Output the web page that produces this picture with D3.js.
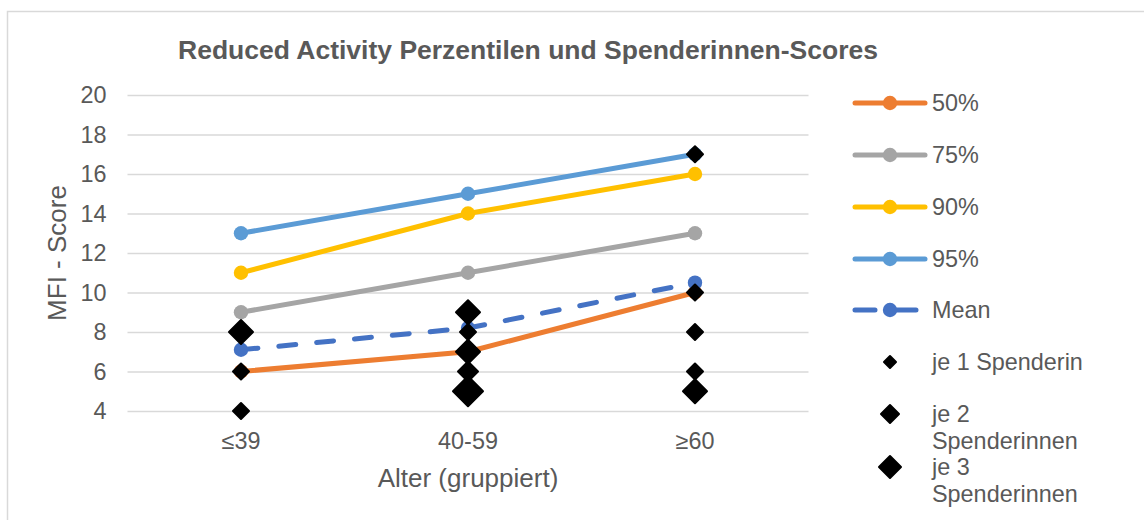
<!DOCTYPE html>
<html>
<head>
<meta charset="utf-8">
<script src="https://cdn.jsdelivr.net/npm/d3@7"></script>
<style>
  html, body { margin: 0; padding: 0; background: #fff; }
  svg { display: block; font-family: "Liberation Sans", Arial, sans-serif; }
</style>
</head>
<body>
<svg id="chart" width="1144" height="520"></svg>
<script>
// ---------- data ----------
const categories = ["≤39", "40-59", "≥60"];
const yTicks = [4, 6, 8, 10, 12, 14, 16, 18, 20];

const seriesNames = ["50%", "75%", "90%", "95%", "Mean"];
const p50  = [6, 7, 10];
const p75  = [9, 11, 13];
const p90  = [11, 14, 16];
const p95  = [13, 15, 17];
const mean = [7.1, 8.2, 10.5];

// donor scores: category, score, number of donors at that point
const donorCategory = ["≤39", "≤39", "≤39", "40-59", "40-59", "40-59", "40-59", "40-59", "≥60", "≥60", "≥60", "≥60", "≥60"];
const donorScore    = [8, 6, 4, 9, 8, 7, 6, 5, 17, 10, 8, 6, 5];
const donorCount    = [3, 1, 1, 3, 1, 3, 2, 4, 1, 1, 1, 1, 3];

const legendDonorLabels = [["je 1 Spenderin"], ["je 2", "Spenderinnen"], ["je 3", "Spenderinnen"]];
const titleText = "Reduced Activity Perzentilen und Spenderinnen-Scores";
const yTitle = "MFI - Score";
const xTitle = "Alter (gruppiert)";

// ---------- styles ----------
const colors = { "50%": "#ED7D31", "75%": "#A5A5A5", "90%": "#FFC000", "95%": "#5B9BD5", "Mean": "#4472C4" };
const seriesValues = { "50%": p50, "75%": p75, "90%": p90, "95%": p95, "Mean": mean };
const diamondSize = { 1: 18, 2: 22, 3: 26, 4: 32 };       // diagonal width in px (plot)
const legendDiamondSize = { 1: 14, 2: 20, 3: 24 };
const textColor = "#595959";

const svg = d3.select("#chart");
svg.append("rect").attr("width", 1144).attr("height", 520).attr("fill", "#fff");
svg.append("rect").attr("x", 7.5).attr("y", 11.5).attr("width", 1200).attr("height", 600)
  .attr("fill", "none").attr("stroke", "#d9d9d9").attr("stroke-width", 1.5);

const x = d3.scaleBand().domain(categories).range([127.5, 808.5]);
const cx = c => x(c) + x.bandwidth() / 2;
const y = d3.scaleLinear().domain([4, 20]).range([411, 95]);

// title
svg.append("text").attr("x", 528).attr("y", 50).attr("text-anchor", "middle")
  .attr("dominant-baseline", "central").attr("font-size", 26.5).attr("font-weight", "bold")
  .attr("fill", textColor).text(titleText);

// y axis + grid
const yAxis = d3.axisLeft(y).tickValues(yTicks).tickSize(-(808.5 - 127.5)).tickPadding(21);
const gy = svg.append("g").attr("transform", "translate(127.5,0)").call(yAxis);
gy.select(".domain").remove();
gy.selectAll(".tick line").attr("stroke", "#d9d9d9").attr("stroke-width", 1.5);
gy.selectAll(".tick text").attr("font-size", 23.4).attr("fill", textColor)
  .attr("font-family", "Liberation Sans, Arial, sans-serif");

// x axis labels
const xAxis = d3.axisBottom(x).tickSize(0).tickPadding(0);
const gx = svg.append("g").attr("transform", "translate(0,441)").call(xAxis);
gx.select(".domain").remove();
gx.selectAll(".tick text").attr("font-size", 23.4).attr("fill", textColor)
  .attr("dy", null).attr("y", 0).attr("dominant-baseline", "central")
  .attr("font-family", "Liberation Sans, Arial, sans-serif");

// axis titles
svg.append("text").attr("transform", "translate(57,253) rotate(-90)")
  .attr("text-anchor", "middle").attr("dominant-baseline", "central")
  .attr("font-size", 26).attr("fill", textColor).text(yTitle);
svg.append("text").attr("x", 468).attr("y", 478).attr("text-anchor", "middle")
  .attr("dominant-baseline", "central").attr("font-size", 26).attr("fill", textColor).text(xTitle);

// lines
const line = d3.line().x((d, i) => cx(categories[i])).y(d => y(d));
const dash = "17,21";
seriesNames.forEach(name => {
  const vals = seriesValues[name];
  const g = svg.append("g");
  g.append("path").datum(vals).attr("d", line).attr("fill", "none")
    .attr("stroke", colors[name]).attr("stroke-width", 5)
    .attr("stroke-linecap", "round").attr("stroke-linejoin", "round")
    .attr("stroke-dasharray", name === "Mean" ? dash : null);
  g.selectAll("circle").data(vals).join("circle")
    .attr("cx", (d, i) => cx(categories[i])).attr("cy", d => y(d)).attr("r", 7.2)
    .attr("fill", colors[name]);
});

// diamonds
function diamondPath(w) {
  const h = w / 2;
  return `M0,${-h}L${h},0L0,${h}L${-h},0Z`;
}
const donors = donorScore.map((s, i) => ({ c: donorCategory[i], s, n: donorCount[i] }));
svg.append("g").selectAll("path").data(donors).join("path")
  .attr("transform", d => `translate(${cx(d.c)},${y(d.s)})`)
  .attr("d", d => diamondPath(diamondSize[d.n] - 2))
  .attr("fill", "#000").attr("stroke", "#000").attr("stroke-width", 2)
  .attr("stroke-linejoin", "round");

// legend
const lg = svg.append("g");
const legX0 = 855, legX1 = 925, legMark = 890, legText = 932;
const rowY = [103, 155, 207, 259, 310];
seriesNames.forEach((name, i) => {
  const yy = rowY[i];
  lg.append("line").attr("x1", legX0).attr("x2", legX1).attr("y1", yy).attr("y2", yy)
    .attr("stroke", colors[name]).attr("stroke-width", 5).attr("stroke-linecap", "round")
    .attr("stroke-dasharray", name === "Mean" ? "20,21" : null);
  lg.append("circle").attr("cx", legMark).attr("cy", yy).attr("r", 7.2).attr("fill", colors[name]);
  lg.append("text").attr("x", legText).attr("y", yy).attr("dominant-baseline", "central")
    .attr("font-size", 23.4).attr("fill", textColor).text(name);
});
const donorRowY = [362, 414, 467];
legendDonorLabels.forEach((lines, i) => {
  const yy = donorRowY[i];
  lg.append("path").attr("transform", `translate(${legMark},${yy})`)
    .attr("d", diamondPath(legendDiamondSize[i + 1] - 2))
    .attr("fill", "#000").attr("stroke", "#000").attr("stroke-width", 2).attr("stroke-linejoin", "round");
  lines.forEach((t, j) => {
    lg.append("text").attr("x", legText).attr("y", yy + j * 27).attr("dominant-baseline", "central")
      .attr("font-size", 23.4).attr("fill", textColor).text(t);
  });
});
</script>
</body>
</html>
